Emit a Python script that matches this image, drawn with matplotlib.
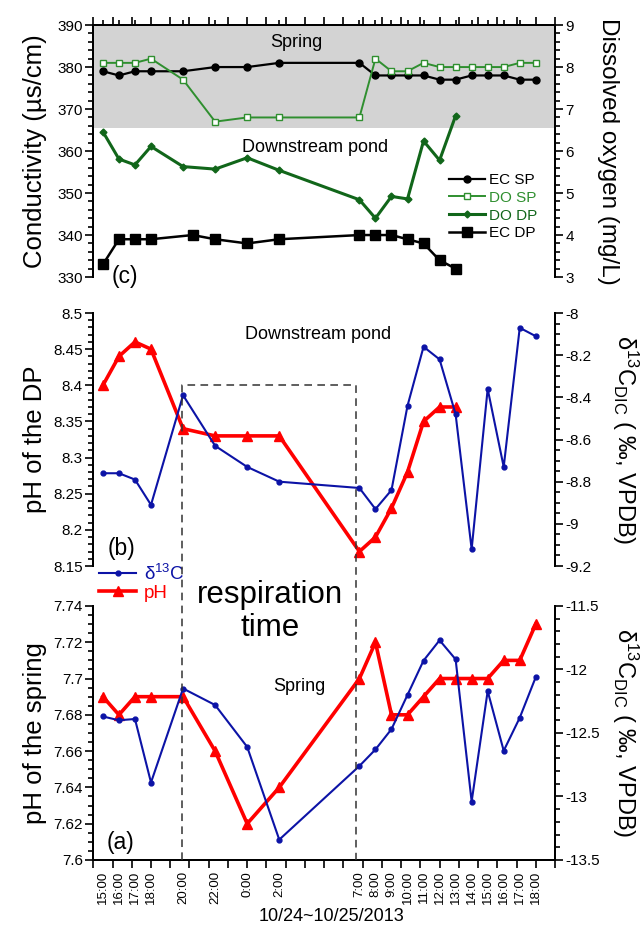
import numpy as np
import matplotlib
matplotlib.use("Agg")
import matplotlib.pyplot as plt
from matplotlib.ticker import MultipleLocator, FormatStrFormatter
from matplotlib.transforms import blended_transform_factory
from matplotlib.lines import Line2D

plt.rcParams["font.family"] = ["Liberation Sans", "DejaVu Sans"]
plt.rcParams["mathtext.fontset"] = "custom"
plt.rcParams["mathtext.rm"] = "Liberation Sans"
plt.rcParams["mathtext.it"] = "Liberation Sans:italic"
plt.rcParams["axes.unicode_minus"] = False

# sampling time, hours since 10/24 0:00
hours = [15, 16, 17, 18, 20, 22, 24, 26, 31, 32, 33, 34, 35, 36, 37, 38, 39, 40, 41, 42]
hours_dp = hours[:15]
hours_ec_dp = [15, 16, 17, 18, 20.6, 22, 24, 26, 31, 32, 33, 34, 35, 36, 37]

tick_hours = [15, 16, 17, 18, 20, 22, 24, 26, 31, 32, 33, 34, 35, 36, 37, 38, 39, 40, 41, 42]
tick_labels = ["15:00", "16:00", "17:00", "18:00", "20:00", "22:00", "0:00", "2:00",
               "7:00", "8:00", "9:00", "10:00", "11:00", "12:00", "13:00", "14:00",
               "15:00", "16:00", "17:00", "18:00"]

# (c) conductivity and dissolved oxygen
ec_sp = [379, 378, 379, 379, 379, 380, 380, 381, 381, 378, 378, 378, 378, 377, 377, 378, 378, 378, 377, 377]
do_sp = [8.1, 8.1, 8.1, 8.2, 7.7, 6.7, 6.8, 6.8, 6.8, 8.2, 7.9, 7.9, 8.1, 8.0, 8.0, 8.0, 8.0, 8.0, 8.1, 8.1]
do_dp = [6.46, 5.81, 5.67, 6.11, 5.63, 5.57, 5.84, 5.54, 4.84, 4.40, 4.92, 4.86, 6.24, 5.78, 6.84]
ec_dp = [333, 339, 339, 339, 340, 339, 338, 339, 340, 340, 340, 339, 338, 334, 332]

# (b) downstream pond
ph_dp = [8.40, 8.44, 8.46, 8.45, 8.34, 8.33, 8.33, 8.33, 8.17, 8.19, 8.23, 8.28, 8.35, 8.37, 8.37]
d13c_dp = [-8.76, -8.76, -8.79, -8.91, -8.39, -8.63, -8.73, -8.80, -8.83, -8.93,
           -8.84, -8.44, -8.16, -8.22, -8.48, -9.12, -8.36, -8.73, -8.07, -8.11]

# (a) spring
ph_sp = [7.69, 7.68, 7.69, 7.69, 7.69, 7.66, 7.62, 7.64, 7.70, 7.72,
         7.68, 7.68, 7.69, 7.70, 7.70, 7.70, 7.70, 7.71, 7.71, 7.73]
d13c_sp = [-12.37, -12.40, -12.39, -12.89, -12.15, -12.28, -12.61, -13.34, -12.76, -12.63,
           -12.47, -12.20, -11.93, -11.77, -11.92, -13.04, -12.17, -12.64, -12.38, -12.06]

resp_start, resp_end, resp_top = 19.95, 30.8, 8.40
spring_band = (365.5, 390)

BLUE = "#0c13a6"
RED = "#ff0000"
GREEN_SP = "#2f8f2f"
GREEN_DP = "#11661a"
YLAB = 18.5

fig = plt.figure(figsize=(6.42, 9.25), dpi=100)
L, W = 0.1453, 0.7192
ax_c = fig.add_axes([L, 0.7005, W, 0.2724])
ax_b = fig.add_axes([L, 0.3881, W, 0.2735], sharex=ax_c)
ax_a = fig.add_axes([L, 0.0703, W, 0.2746], sharex=ax_c)
ax_c2 = ax_c.twinx()
ax_b2 = ax_b.twinx()
ax_a2 = ax_a.twinx()

for ax in (ax_c, ax_b, ax_a, ax_c2, ax_b2, ax_a2):
    for s in ax.spines.values():
        s.set_linewidth(1.4)
    ax.tick_params(which="both", direction="out", width=1.2, labelsize=11, pad=1.5)
    ax.tick_params(which="major", length=6)
    ax.tick_params(which="minor", length=3.5)
for ax in (ax_c, ax_c2):
    ax.spines["bottom"].set_visible(False)
for ax in (ax_b, ax_b2):
    ax.spines["bottom"].set_visible(False)
    ax.spines["top"].set_visible(False)
for ax in (ax_a, ax_a2):
    ax.spines["top"].set_visible(False)

ax_c.set_xlim(14.4, 43.2)
ax_c.xaxis.set_major_locator(MultipleLocator(1.2))

# ---- (c)
ax_c.axhspan(*spring_band, color="#d3d3d3", lw=0, zorder=0)
l1, = ax_c.plot(hours, ec_sp, "-o", color="black", lw=1.6, ms=5, label="EC SP")
l4, = ax_c.plot(hours_ec_dp, ec_dp, "-s", color="black", lw=1.8, ms=7.5, label="EC DP")
l2, = ax_c2.plot(hours, do_sp, "-s", color=GREEN_SP, lw=1.4, ms=4.5, mfc="white",
                 mec=GREEN_SP, mew=1, label="DO SP")
l3, = ax_c2.plot(hours_dp, do_dp, "-D", color=GREEN_DP, lw=2.2, ms=3.5, label="DO DP")
ax_c.set_ylim(330, 390)
ax_c.yaxis.set_major_locator(MultipleLocator(10))
ax_c.yaxis.set_minor_locator(MultipleLocator(2))
ax_c2.set_ylim(3, 9)
ax_c2.yaxis.set_major_locator(MultipleLocator(1))
ax_c2.yaxis.set_minor_locator(MultipleLocator(0.2))
ax_c.xaxis.set_ticks_position("top")
ax_c.tick_params(axis="x", which="both", labeltop=False, labelbottom=False)
ax_c.set_ylabel("Conductivity (µs/cm)", fontsize=YLAB, va="center", ha="center")
ax_c.yaxis.set_label_coords(-0.126, 0.5)
ax_c2.set_ylabel("Dissolved oxygen (mg/L)", fontsize=17.5, rotation=270, va="center", ha="center")
ax_c2.yaxis.set_label_coords(1.115, 0.5)
ax_c.text(0.439, 0.929, "Spring", transform=ax_c.transAxes, fontsize=13, ha="center", va="center")
ax_c.text(0.48, 0.514, "Downstream pond", transform=ax_c.transAxes, fontsize=13, ha="center", va="center")
ax_c.text(0.069, 0.004, "(c)", transform=ax_c.transAxes, fontsize=16.5, ha="center", va="center")
leg = ax_c2.legend(handles=[l1, l2, l3, l4], loc="upper left", bbox_to_anchor=(0.77, 0.413),
                   frameon=False, borderpad=0, borderaxespad=0, fontsize=11,
                   handlelength=2.4, handletextpad=0.25, labelspacing=0.25)
for txt, col in zip(leg.get_texts(), ["black", GREEN_SP, GREEN_DP, "black"]):
    txt.set_color(col)

# ---- (b)
lp, = ax_b.plot(hours_dp, ph_dp, "-^", color=RED, lw=2.6, ms=7, label="pH")
ld, = ax_b2.plot(hours, d13c_dp, "-o", color=BLUE, lw=1.5, ms=3.5, label=r"δ$^{13}$C")
ax_b.set_ylim(8.15, 8.5)
ax_b.yaxis.set_major_locator(MultipleLocator(0.05))
ax_b.yaxis.set_minor_locator(MultipleLocator(0.01))
ax_b.yaxis.set_major_formatter(FormatStrFormatter("%g"))
ax_b2.set_ylim(-9.2, -8)
ax_b2.yaxis.set_major_locator(MultipleLocator(0.2))
ax_b2.yaxis.set_minor_locator(MultipleLocator(0.05))
ax_b2.yaxis.set_major_formatter(FormatStrFormatter("%g"))
ax_b.tick_params(axis="x", which="both", bottom=False, top=False, labelbottom=False)
ax_b.set_ylabel("pH of the DP", fontsize=YLAB, va="center", ha="center")
ax_b.yaxis.set_label_coords(-0.126, 0.5)
ax_b2.set_ylabel(r"δ$^{13}$C$_{\rm DIC}$ ( ‰, VPDB)", fontsize=17, rotation=270,
                 va="center", ha="center")
ax_b2.yaxis.set_label_coords(1.151, 0.5)
ax_b.text(0.486, 0.914, "Downstream pond", transform=ax_b.transAxes, fontsize=13, ha="center", va="center")
ax_b.text(0.062, 0.07, "(b)", transform=ax_b.transAxes, fontsize=16.5, ha="center", va="center")
leg2 = ax_b2.legend(handles=[ld, lp], loc="upper left", bbox_to_anchor=(0.0123, 0.01),
                    frameon=False, borderpad=0, borderaxespad=0, fontsize=13.5,
                    handlelength=2.0, handletextpad=0.4, labelspacing=0.05)
for txt, col in zip(leg2.get_texts(), [BLUE, RED]):
    txt.set_color(col)

# ---- (a)
ax_a.plot(hours, ph_sp, "-^", color=RED, lw=2.6, ms=7)
ax_a2.plot(hours, d13c_sp, "-o", color=BLUE, lw=1.5, ms=3.5)
ax_a.set_ylim(7.6, 7.74)
ax_a.yaxis.set_major_locator(MultipleLocator(0.02))
ax_a.yaxis.set_minor_locator(MultipleLocator(0.005))
ax_a.yaxis.set_major_formatter(FormatStrFormatter("%g"))
ax_a2.set_ylim(-13.5, -11.5)
ax_a2.yaxis.set_major_locator(MultipleLocator(0.5))
ax_a2.yaxis.set_minor_locator(MultipleLocator(0.1))
ax_a2.yaxis.set_major_formatter(FormatStrFormatter("%g"))
ax_a.xaxis.set_ticks_position("bottom")
ax_a.xaxis.remove_overlapping_locs = False
ax_a.tick_params(axis="x", which="major", labelbottom=False)
ax_a.set_xticks(tick_hours, tick_labels, minor=True)
ax_a.tick_params(axis="x", which="minor", length=0, labelsize=9.5, rotation=90, pad=8)
ax_a.set_ylabel("pH of the spring", fontsize=YLAB, va="center", ha="center")
ax_a.yaxis.set_label_coords(-0.126, 0.5)
ax_a2.set_ylabel(r"δ$^{13}$C$_{\rm DIC}$ ( ‰, VPDB)", fontsize=17, rotation=270,
                 va="center", ha="center")
ax_a2.yaxis.set_label_coords(1.151, 0.5)
ax_a.set_xlabel("10/24~10/25/2013", fontsize=13)
ax_a.xaxis.set_label_coords(0.515, -0.19)
ax_a.text(0.446, 0.681, "Spring", transform=ax_a.transAxes, fontsize=13, ha="center", va="center")
ax_a.text(0.058, 0.07, "(a)", transform=ax_a.transAxes, fontsize=16.5, ha="center", va="center")

# respiration window, spanning panels (b) and (a)
top_fig = fig.transFigure.inverted().transform(ax_b.transData.transform((resp_start, resp_top)))[1]
bot_fig = ax_a.get_position().y0
trans = blended_transform_factory(ax_a.transData, fig.transFigure)
fig.add_artist(Line2D([resp_start, resp_start, resp_end, resp_end], [bot_fig, top_fig, top_fig, bot_fig],
                      transform=trans, color="#333333", lw=1.1, ls=(0, (5, 3.5))))
fig.text(0.4206, 0.339, "respiration\ntime", fontsize=22.5, ha="center", va="center", linespacing=1.15)

fig.savefig("out.png", dpi=100)
